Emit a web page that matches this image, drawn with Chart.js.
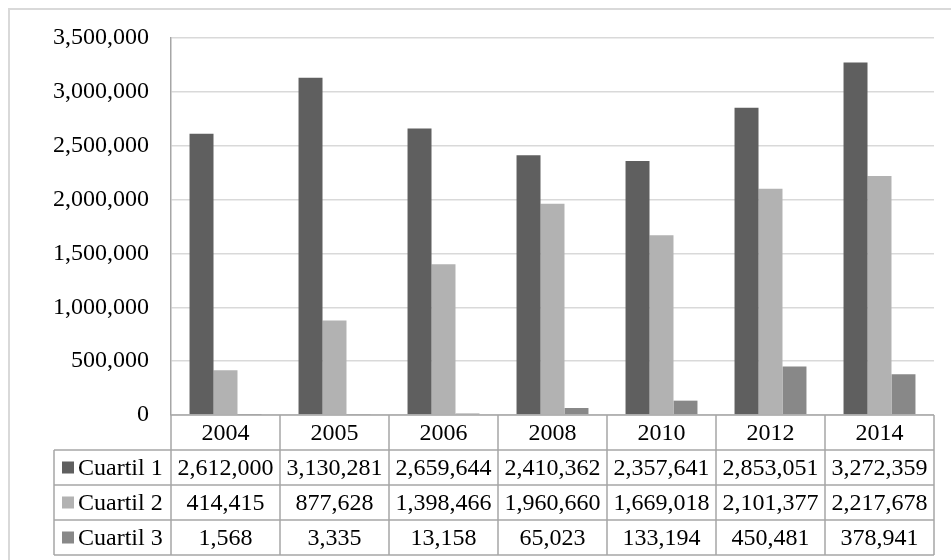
<!DOCTYPE html>
<html>
<head>
<meta charset="utf-8">
<script src="https://cdn.jsdelivr.net/npm/chart.js@4.4.1/dist/chart.umd.min.js"></script>
<style>
    html, body { margin: 0; padding: 0; background: #fff; }
    #wrap { width: 951px; height: 560px; position: relative; }
</style>
</head>
<body>
<div id="wrap"><canvas id="chart"></canvas></div>
<script>
// Data
const years = ['2004', '2005', '2006', '2008', '2010', '2012', '2014'];
const cuartil1 = [2612000, 3130281, 2659644, 2410362, 2357641, 2853051, 3272359];
const cuartil2 = [414415, 877628, 1398466, 1960660, 1669018, 2101377, 2217678];
const cuartil3 = [1568, 3335, 13158, 65023, 133194, 450481, 378941];
const seriesNames = ['Cuartil 1', 'Cuartil 2', 'Cuartil 3'];
const yMax = 3500000;
const yStep = 500000;

const COLORS = ['#5f5f5f', '#b2b2b2', '#888888'];
const FONT = '"Liberation Serif", "Times New Roman", serif';
const fmt = v => v.toLocaleString('en-US');

// Outer frame (cut off at right and bottom like the source)
const framePlugin = {
    id: 'frame',
    beforeDraw(chart) {
        const ctx = chart.ctx;
        ctx.save();
        ctx.fillStyle = '#fff';
        ctx.fillRect(0, 0, chart.width, chart.height);
        ctx.strokeStyle = '#d9d9d9';
        ctx.lineWidth = 2;
        ctx.strokeRect(9, 9, chart.width + 20, chart.height + 20);
        ctx.restore();
    }
};

// Excel-style data table under the plot
const tablePlugin = {
    id: 'dataTable',
    afterDraw(chart) {
        const { ctx, chartArea, scales: { x } } = chart;
        const series = [cuartil1, cuartil2, cuartil3];
        const colW = (chartArea.right - chartArea.left) / years.length;
        const rowH = 35;
        const top = chartArea.bottom;
        const legendLeft = 54;
        const bottom = top + rowH * (series.length + 1);

        ctx.save();
        ctx.strokeStyle = '#a6a6a6';
        ctx.lineWidth = 1.5;
        ctx.beginPath();
        for (let r = 0; r <= series.length + 1; r++) {
            const y = top + r * rowH;
            ctx.moveTo(r === 0 ? chartArea.left : legendLeft, y);
            ctx.lineTo(chartArea.right, y);
        }
        for (let i = 0; i <= years.length; i++) {
            const xx = chartArea.left + i * colW;
            ctx.moveTo(xx, top);
            ctx.lineTo(xx, bottom);
        }
        ctx.moveTo(legendLeft, top + rowH);
        ctx.lineTo(legendLeft, bottom);
        ctx.stroke();

        ctx.fillStyle = '#000';
        ctx.font = '24px ' + FONT;
        ctx.textBaseline = 'middle';
        ctx.textAlign = 'center';
        years.forEach((yr, i) => {
            ctx.fillText(yr, x.getPixelForValue(i), top + rowH / 2 + 1);
        });
        series.forEach((vals, s) => {
            const cy = top + rowH * (s + 1) + rowH / 2 + 1;
            ctx.textAlign = 'center';
            vals.forEach((v, i) => ctx.fillText(fmt(v), x.getPixelForValue(i), cy));
            ctx.fillStyle = COLORS[s];
            ctx.fillRect(62, cy - 7, 12, 12);
            ctx.fillStyle = '#000';
            ctx.textAlign = 'left';
            ctx.fillText(seriesNames[s], 78, cy);
        });
        ctx.restore();
    }
};

const datasets = [cuartil1, cuartil2, cuartil3].map((d, i) => ({
    label: seriesNames[i],
    data: d,
    backgroundColor: COLORS[i],
    borderWidth: 0,
    categoryPercentage: 0.66,
    barPercentage: 1
}));

new Chart(document.getElementById('chart').getContext('2d'), {
    type: 'bar',
    data: { labels: years, datasets },
    options: {
        responsive: true, maintainAspectRatio: false,
        animation: false,
        layout: { padding: { top: 38, right: 17, bottom: 145, left: 0 } },
        plugins: { legend: { display: false }, tooltip: { enabled: false } },
        scales: {
            x: { display: false },
            y: {
                min: 0, max: yMax,
                afterFit(scale) { scale.width = 171; },
                ticks: {
                    stepSize: yStep, padding: 22, color: '#000',
                    font: { family: FONT, size: 24 },
                    callback: v => fmt(v)
                },
                grid: { color: '#d9d9d9', lineWidth: 1.5, drawTicks: false },
                border: { display: true, color: '#a6a6a6', width: 1.5 }
            }
        }
    },
    plugins: [framePlugin, tablePlugin]
});
</script>
</body>
</html>
